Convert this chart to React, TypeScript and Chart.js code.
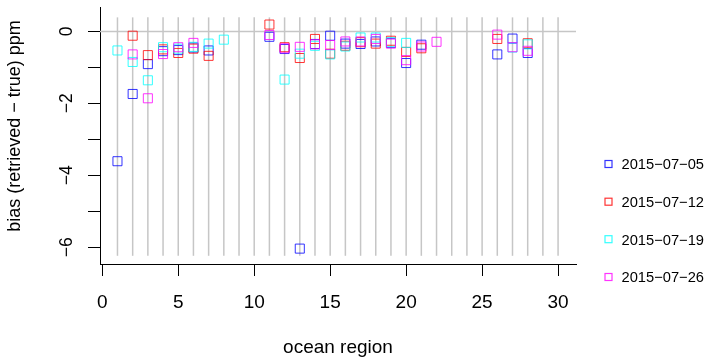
import React, { useEffect, useRef } from "react";
import { Chart, registerables } from "chart.js";

Chart.register(...registerables);

// ---- data ----
const REGIONS = [1, 2, 3, 4, 5, 6, 7, 8, 9, 10, 11, 12, 13, 14, 15, 16, 17, 18, 19, 20, 21, 22, 23, 24, 25, 26, 27, 28];
const SERIES_LABELS = ["2015\u221207\u221205", "2015\u221207\u221212", "2015\u221207\u221219", "2015\u221207\u221226"];
const BIAS_0705 = [-3.61, -1.74, -0.91, -0.55, -0.52, -0.45, -0.53, null, null, null, -0.15, -0.49, -6.04, -0.35, -0.12, -0.34, -0.35, -0.28, -0.32, -0.88, -0.37, null, null, null, null, -0.64, -0.2, -0.6];
const BIAS_0712 = [null, -0.12, -0.66, -0.5, -0.6, -0.48, -0.68, null, null, null, 0.19, -0.44, -0.74, -0.21, -0.62, -0.4, -0.3, -0.34, -0.26, -0.57, -0.47, null, null, null, null, -0.21, null, -0.33];
const BIAS_0719 = [-0.53, -0.85, -1.36, -0.44, -0.48, -0.43, -0.34, -0.23, null, null, null, -1.34, -0.62, -0.4, -0.64, -0.42, -0.17, -0.17, -0.3, -0.32, null, null, null, null, null, null, -0.45, -0.36];
const BIAS_0726 = [null, -0.64, -1.86, -0.63, -0.44, -0.32, null, null, null, null, -0.1, -0.47, -0.43, -0.36, -0.38, -0.28, -0.28, -0.21, -0.34, -0.8, -0.42, -0.29, null, null, null, -0.09, -0.44, -0.54];
const SERIES_VALUES = [BIAS_0705, BIAS_0712, BIAS_0719, BIAS_0726];
const SERIES_COLORS = ["rgba(0,0,255,0.8)", "rgba(255,0,0,0.8)", "rgba(0,255,255,0.8)", "rgba(255,0,255,0.8)"];

const X_TICKS = [0, 5, 10, 15, 20, 25, 30];
const Y_TICKS = [-6, -5, -4, -3, -2, -1, 0];
const Y_TICK_LABELS = [-6, -4, -2, 0];
const GUIDE_X = Array.from({ length: 30 }, (_, i) => i + 1);
const GUIDE_TOP = 0.39;
const GUIDE_BOTTOM = -6.24;

const X_TITLE = "ocean region";
const Y_TITLE = "bias (retrieved \u2212 true) ppm";

const FONT = '"Liberation Sans", Arial, Helvetica, sans-serif';

function fmt(v: number) {
  return v < 0 ? "\u2212" + Math.abs(v) : String(v);
}

const decorPlugin = {
  id: "decor",
  beforeDatasetsDraw(chart: any) {
    const { ctx, chartArea } = chart;
    const xs = chart.scales.x;
    const ys = chart.scales.y;
    ctx.save();
    ctx.strokeStyle = "#c6c6c6";
    ctx.lineWidth = 1.5;
    const y0 = ys.getPixelForValue(0);
    ctx.beginPath();
    ctx.moveTo(chartArea.left, y0);
    ctx.lineTo(chartArea.right, y0);
    ctx.stroke();
    const yt = ys.getPixelForValue(GUIDE_TOP);
    const yb = ys.getPixelForValue(GUIDE_BOTTOM);
    GUIDE_X.forEach((g) => {
      const px = xs.getPixelForValue(g);
      ctx.beginPath();
      ctx.moveTo(px, yt);
      ctx.lineTo(px, yb);
      ctx.stroke();
    });
    ctx.restore();
  },
  afterDraw(chart: any) {
    const { ctx, chartArea } = chart;
    const xs = chart.scales.x;
    const ys = chart.scales.y;
    ctx.save();
    ctx.fillStyle = "#000";
    // x tick labels
    ctx.font = `19px ${FONT}`;
    ctx.textAlign = "center";
    ctx.textBaseline = "alphabetic";
    X_TICKS.forEach((v) => {
      ctx.fillText(String(v), xs.getPixelForValue(v), 308);
    });
    // x title
    ctx.fillText(X_TITLE, (chartArea.left + chartArea.right) / 2, 353);
    // y tick labels (rotated)
    ctx.font = `17.5px ${FONT}`;
    Y_TICK_LABELS.forEach((v) => {
      const py = ys.getPixelForValue(v);
      ctx.save();
      ctx.translate(72, py);
      ctx.rotate(-Math.PI / 2);
      ctx.textAlign = "center";
      ctx.textBaseline = "alphabetic";
      ctx.fillText(fmt(v), 0, 0);
      ctx.restore();
    });
    // y title
    ctx.save();
    ctx.translate(20, 126);
    ctx.rotate(-Math.PI / 2);
    ctx.textAlign = "center";
    ctx.textBaseline = "alphabetic";
    ctx.font = `18px ${FONT}`;
    ctx.fillText(Y_TITLE, 0, 0);
    ctx.restore();
    // legend
    const legY = [164, 201.7, 239.2, 277];
    ctx.font = `14.7px ${FONT}`;
    ctx.textAlign = "left";
    ctx.textBaseline = "alphabetic";
    SERIES_LABELS.forEach((lab, i) => {
      const cy = legY[i];
      ctx.strokeStyle = SERIES_COLORS[i];
      ctx.lineWidth = 1.2;
      ctx.strokeRect(605, cy - 3.5, 7, 7);
      ctx.fillStyle = "#000";
      ctx.fillText(lab, 621.5, cy + 5.3);
    });
    ctx.restore();
  },
};

export default function App() {
  const ref = useRef<HTMLCanvasElement | null>(null);
  useEffect(() => {
    if (!ref.current) return;
    const datasets = SERIES_VALUES.map((vals, i) => ({
      label: SERIES_LABELS[i],
      data: REGIONS.map((r, j) => ({ x: r, y: vals[j] })).filter((p) => p.y !== null),
      pointStyle: "rect",
      pointRadius: 6.4,
      pointBorderWidth: 1,
      pointBackgroundColor: "rgba(0,0,0,0)",
      pointBorderColor: SERIES_COLORS[i],
      borderColor: SERIES_COLORS[i],
      backgroundColor: "rgba(0,0,0,0)",
      showLine: false,
      order: 4 - i,
    }));
    const axisCommon = {
      type: "linear" as const,
      ticks: { display: false },
      grid: {
        display: true,
        drawOnChartArea: false,
        drawTicks: true,
        tickLength: 12,
        color: "#000",
        lineWidth: 1,
      },
      border: { display: true, color: "#000", width: 1 },
    };
    const chart = new Chart(ref.current, {
      type: "scatter",
      data: { datasets: datasets as any },
      options: {
        responsive: false,
        animation: false,
        devicePixelRatio: 1,
        layout: { padding: { left: 0, right: 133, top: 5, bottom: 0 } },
        plugins: { legend: { display: false }, tooltip: { enabled: false } },
        scales: {
          x: {
            ...axisCommon,
            min: -0.15,
            max: 31.18,
            afterBuildTicks: (s: any) => {
              s.ticks = X_TICKS.map((v) => ({ value: v }));
            },
            afterFit: (s: any) => {
              s.height = 95;
            },
          },
          y: {
            ...axisCommon,
            min: -6.468,
            max: 0.667,
            afterBuildTicks: (s: any) => {
              s.ticks = Y_TICKS.map((v) => ({ value: v }));
            },
            afterFit: (s: any) => {
              s.width = 100;
            },
          },
        } as any,
      },
      plugins: [decorPlugin],
    });
    return () => chart.destroy();
  }, []);
  return (
    <div style={{ position: "absolute", left: 0, top: 0, width: 709, height: 359, background: "#fff" }}>
      <canvas ref={ref} width={709} height={359} style={{ display: "block" }} />
    </div>
  );
}
